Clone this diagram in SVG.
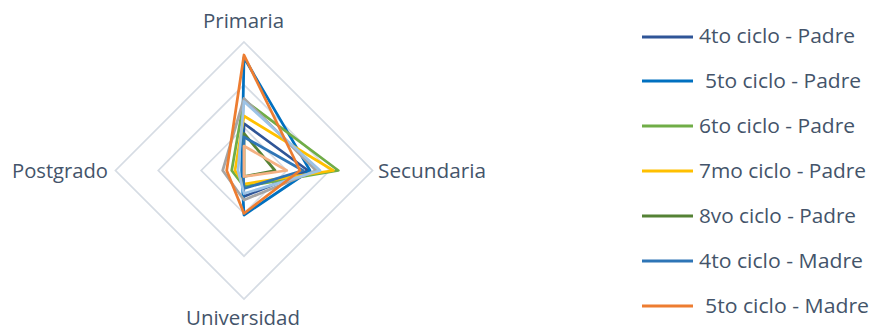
<svg xmlns="http://www.w3.org/2000/svg" width="871" height="333" viewBox="0 0 871 333">
<style>
.grid{fill:none;stroke:#D6DCE4;stroke-width:1.75}
.s{fill:none;stroke-width:2.75;stroke-linejoin:round}
.ax{font-family:"Open Sans","Liberation Sans",sans-serif;font-size:19.5px;fill:#44546A}
.lg{font-family:"Open Sans","Liberation Sans",sans-serif;font-size:19.5px;fill:#44546A}
.ll{stroke-width:3}
</style>
<rect width="871" height="333" fill="#FFFFFF"/>
<g id="grid">
<polygon class="grid" points="244,127.7 286.8,170.5 244,213.3 201.2,170.5"/>
<polygon class="grid" points="244,84.8 329.7,170.5 244,256.2 158.3,170.5"/>
<polygon class="grid" points="244,42 372.5,170.5 244,299 115.5,170.5"/>
</g>
<g id="axis-labels">
<text class="ax" x="203" y="28" textLength="81" lengthAdjust="spacingAndGlyphs">Primaria</text>
<text class="ax" x="378" y="178" textLength="108" lengthAdjust="spacingAndGlyphs">Secundaria</text>
<text class="ax" x="186" y="325" textLength="114" lengthAdjust="spacingAndGlyphs">Universidad</text>
<text class="ax" x="12" y="178" textLength="96" lengthAdjust="spacingAndGlyphs">Postgrado</text>
</g>
<g id="series">
<polygon id="s-4to-padre" class="s" stroke="#2F5597" points="244,123.5 308,170.5 244,196.5 242.7,170.5"/>
<polygon id="s-5to-padre" class="s" stroke="#0070C0" points="244,57.5 310,170.5 244,215 241.7,170.5"/>
<polygon id="s-6to-padre" class="s" stroke="#70AD47" points="244,100 338.3,170.5 244,186.5 231.7,170.5"/>
<polygon id="s-7mo-padre" class="s" stroke="#FFC000" points="244,116 333.3,170.5 244,184 235,170.5"/>
<polygon id="s-8vo-padre" class="s" stroke="#548235" points="244,133.5 275,170.5 244,176.5 244,170.5"/>
<polygon id="s-4to-madre" class="s" stroke="#2E75B6" points="244,137 303,170.5 244,188.5 243,170.5"/>
<polygon id="s-grey" class="s" stroke="#A5A5A5" points="244,98.5 316,170.5 244,200 222.7,170.5"/>
<polygon id="s-lightblue" class="s" stroke="#9DC3E6" points="244,101.5 320,170.5 244,193.5 238,170.5"/>
<polygon id="s-5to-madre" class="s" stroke="#ED7D31" points="244,55 300,170.5 244,213.5 226.7,170.5"/>
<polygon id="s-peach" class="s" stroke="#F4B183" points="244,146 286.7,170.5 244,176.5 244,170.5"/>
</g>
<g id="legend">
<g id="lg1"><line class="ll" x1="642" y1="37" x2="693" y2="37" stroke="#2F5597"/><text class="lg" x="699" y="43" textLength="156" lengthAdjust="spacingAndGlyphs">4to ciclo - Padre</text></g>
<g id="lg2"><line class="ll" x1="642" y1="81" x2="693" y2="81" stroke="#0070C0"/><text class="lg" x="705" y="88" textLength="156" lengthAdjust="spacingAndGlyphs">5to ciclo - Padre</text></g>
<g id="lg3"><line class="ll" x1="642" y1="126" x2="693" y2="126" stroke="#70AD47"/><text class="lg" x="699" y="133" textLength="156" lengthAdjust="spacingAndGlyphs">6to ciclo - Padre</text></g>
<g id="lg4"><line class="ll" x1="642" y1="171" x2="693" y2="171" stroke="#FFC000"/><text class="lg" x="699" y="178" textLength="167" lengthAdjust="spacingAndGlyphs">7mo ciclo - Padre</text></g>
<g id="lg5"><line class="ll" x1="642" y1="216" x2="693" y2="216" stroke="#548235"/><text class="lg" x="699" y="223" textLength="157" lengthAdjust="spacingAndGlyphs">8vo ciclo - Padre</text></g>
<g id="lg6"><line class="ll" x1="642" y1="261" x2="693" y2="261" stroke="#2E75B6"/><text class="lg" x="699" y="268" textLength="164" lengthAdjust="spacingAndGlyphs">4to ciclo - Madre</text></g>
<g id="lg7"><line class="ll" x1="642" y1="306" x2="693" y2="306" stroke="#ED7D31"/><text class="lg" x="705" y="313" textLength="164" lengthAdjust="spacingAndGlyphs">5to ciclo - Madre</text></g>
</g>
</svg>
